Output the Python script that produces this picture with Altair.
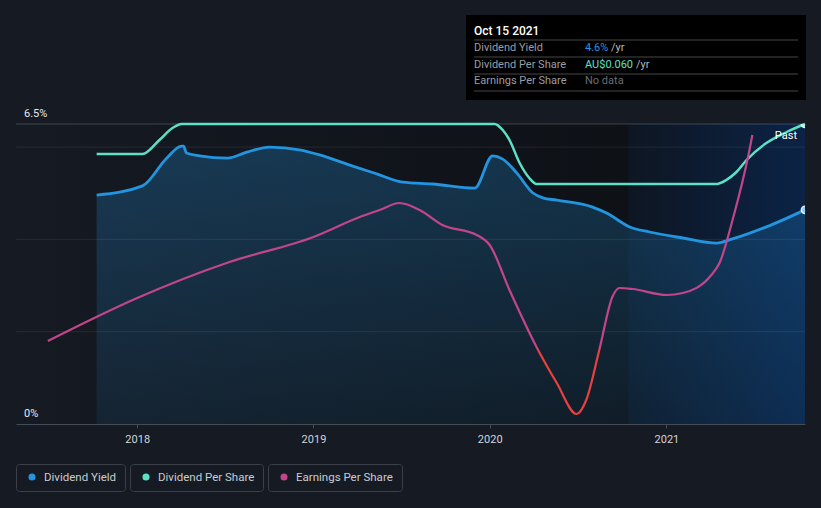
import altair as alt
import pandas as pd

# ---------------- data ----------------
yield_dates = ["2017-10-09", "2018-01-12", "2018-03-03", "2018-04-03", "2018-04-07", "2018-04-13",
               "2018-05-10", "2018-07-07", "2018-08-16", "2018-10-02", "2018-12-03", "2019-01-14",
               "2019-03-17", "2019-05-12", "2019-07-05", "2019-09-05", "2019-12-01", "2020-01-07",
               "2020-01-28", "2020-02-26", "2020-03-30", "2020-04-20", "2020-05-19", "2020-08-01",
               "2020-08-30", "2020-10-17", "2020-11-27", "2021-02-04", "2021-04-15", "2021-05-18",
               "2021-07-27", "2021-10-15"]
yield_values = [4.96, 5.16, 5.76, 6.02, 6.02, 5.87,
                5.81, 5.76, 5.89, 6.00, 5.94, 5.83,
                5.61, 5.42, 5.24, 5.20, 5.11, 5.81,
                5.74, 5.44, 5.01, 4.90, 4.85, 4.70,
                4.57, 4.27, 4.16, 4.03, 3.92, 4.01,
                4.27, 4.64]

dps_dates = ["2017-10-09", "2018-01-12", "2018-02-16", "2018-03-15", "2018-04-03", "2020-01-11",
             "2020-01-28", "2020-02-11", "2020-03-03", "2020-03-23", "2020-04-07", "2021-04-15",
             "2021-05-05", "2021-05-26", "2021-06-16", "2021-07-27", "2021-09-07", "2021-10-15"]
dps_values = [0.054, 0.054, 0.0568, 0.0592, 0.060, 0.060,
              0.0588, 0.0568, 0.0522, 0.0492, 0.048, 0.048,
              0.0488, 0.0504, 0.0528, 0.0562, 0.0584, 0.060]

eps_dates = ["2017-06-30", "2018-01-01", "2018-07-11", "2019-01-01", "2019-04-07", "2019-05-18",
             "2019-06-28", "2019-08-09", "2019-09-25", "2019-12-05", "2020-01-01", "2020-02-11",
             "2020-04-07", "2020-05-19", "2020-06-29", "2020-07-19", "2020-08-15", "2020-09-11",
             "2020-09-26", "2020-10-23", "2021-01-01", "2021-02-04", "2021-04-04", "2021-04-21",
             "2021-05-18", "2021-06-22", "2021-06-28"]
eps_values = [0.0032, 0.0204, 0.0348, 0.0448, 0.0528, 0.0556,
              0.0584, 0.0556, 0.0496, 0.0456, 0.0416, 0.0236,
              0.0008, -0.0136, -0.026, -0.0204, -0.0004, 0.0208,
              0.0244, 0.024, 0.0216, 0.0224, 0.0296, 0.0344,
              0.0516, 0.0796, 0.0856]

year_ticks = [2018, 2019, 2020, 2021]
y_label_values = [0, 6.5]
y_label_texts = ["0%", "6.5%"]
grid_values = [2, 4, 6]
top_value = [6.5]
series_names = ["Dividend Yield", "Dividend Per Share", "Earnings Per Share"]
tooltip_title = "Oct 15 2021"
tooltip_values = ["4.6%", "AU$0.060", "No data"]
past_label = "Past"

# ---------------- styling ----------------
BG = "#151a23"
BLUE = "#2394df"
TEAL = "#5ce0c6"
MAGENTA = "#c2458a"
RED = "#e8403c"
FONT = "Roboto"
W, H = 789, 300

x_scale = alt.Scale(domain=[alt.DateTime(year=2017, month=4, date=25),
                            alt.DateTime(year=2021, month=10, date=15)])
X_AXIS = alt.Axis(values=[alt.DateTime(year=y, month=1, date=1) for y in year_ticks],
                  format="%Y", title=None, grid=False, domainColor="#454b55",
                  tickColor="#454b55", tickSize=4, labelColor="#d2d5da",
                  labelFontSize=11, labelFont=FONT, labelPadding=5)
y_yield = alt.Scale(domain=[0, 6.5], nice=False, zero=False)
y_dps = alt.Scale(domain=[0, 0.06], nice=False, zero=False)
y_eps = alt.Scale(domain=[-0.03, 0.09], nice=False, zero=False)

yield_df = pd.DataFrame({"date": pd.to_datetime(yield_dates), "v": yield_values})
dps_df = pd.DataFrame({"date": pd.to_datetime(dps_dates), "v": dps_values})
eps_df = pd.DataFrame({"date": pd.to_datetime(eps_dates), "v": eps_values})

X = alt.X("date:T", scale=x_scale, axis=X_AXIS)

span_df = pd.DataFrame({"start": pd.to_datetime(["2017-04-25", "2020-10-15"]),
                        "end": pd.to_datetime(["2020-10-15", "2021-10-15"]),
                        "kind": ["history", "past"]})
bg_rect = alt.Chart(span_df).transform_filter(alt.datum.kind == "history").mark_rect(
    fill=alt.LinearGradient(gradient="linear", x1=0, x2=1, y1=0, y2=0,
                            stops=[alt.GradientStop(color=BG, offset=0),
                                   alt.GradientStop(color="#0e1116", offset=1)])
).encode(x=alt.X("start:T", scale=x_scale, axis=X_AXIS), x2="end:T",
         y=alt.value(0), y2=alt.value(H))

past_rect = alt.Chart(span_df).transform_filter(alt.datum.kind == "past").mark_rect(
    fill=alt.LinearGradient(gradient="linear", x1=0, x2=1, y1=0, y2=0,
                            stops=[alt.GradientStop(color="#0e1622", offset=0),
                                   alt.GradientStop(color="#0b2346", offset=1)])
).encode(x=alt.X("start:T", scale=x_scale, axis=X_AXIS), x2="end:T",
         y=alt.value(0), y2=alt.value(H))

area = alt.Chart(yield_df).mark_area(
    interpolate="monotone",
    fill=alt.LinearGradient(gradient="linear", x1=0, x2=0, y1=0, y2=1,
                            stops=[alt.GradientStop(color="rgba(35,148,223,0.27)", offset=0),
                                   alt.GradientStop(color="rgba(35,148,223,0.09)", offset=1)])
).encode(x=X, y=alt.Y("v:Q", scale=y_yield, axis=None))

grid_df = pd.DataFrame({"g": grid_values})
grid = alt.Chart(grid_df).mark_rule(color="#ffffff", opacity=0.08, strokeWidth=1).encode(
    y=alt.Y("g:Q", scale=y_yield, axis=None))
top_df = pd.DataFrame({"g": top_value})
top_line = alt.Chart(top_df).mark_rule(color="#ffffff", opacity=0.2, strokeWidth=1).encode(
    y=alt.Y("g:Q", scale=y_yield, axis=None))

ylab_df = pd.DataFrame({"v": y_label_values, "t": y_label_texts})
y_labels = alt.Chart(ylab_df).mark_text(
    align="left", baseline="alphabetic", dy=-7, color="#e6e8eb", fontSize=11, font=FONT
).encode(x=alt.value(8), y=alt.Y("v:Q", scale=y_yield, axis=None), text="t:N")

yield_line = alt.Chart(yield_df).mark_line(interpolate="monotone", color=BLUE, strokeWidth=2.8).encode(
    x=X, y=alt.Y("v:Q", scale=y_yield, axis=None))
dps_line = alt.Chart(dps_df).mark_line(interpolate="monotone", color=TEAL, strokeWidth=2.5).encode(
    x=X, y=alt.Y("v:Q", scale=y_dps, axis=None))
eps_line = alt.Chart(eps_df).mark_line(
    interpolate="monotone", strokeWidth=2.2,
    stroke=alt.LinearGradient(gradient="linear", x1=0, x2=0, y1=0, y2=1,
                              stops=[alt.GradientStop(color=MAGENTA, offset=0),
                                     alt.GradientStop(color=MAGENTA, offset=0.755),
                                     alt.GradientStop(color=RED, offset=0.78),
                                     alt.GradientStop(color=RED, offset=1)])
).encode(x=X, y=alt.Y("v:Q", scale=y_eps, axis=None))

yield_end = alt.Chart(yield_df.tail(1)).mark_point(
    shape="circle", filled=False, fill="#8fcaf2", fillOpacity=1, stroke="#e9f5ff",
    strokeWidth=1.3, size=55, opacity=1, clip=True
).encode(x=X, y=alt.Y("v:Q", scale=y_yield, axis=None))
dps_end = alt.Chart(dps_df.tail(1)).mark_point(
    shape="circle", filled=False, fill="#a9f1e2", fillOpacity=1, stroke="#eafffa",
    strokeWidth=1.3, size=55, opacity=1, clip=True
).encode(x=X, y=alt.Y("v:Q", scale=y_dps, axis=None))

past_text = alt.Chart(span_df).transform_filter(alt.datum.kind == "past").mark_text(
    text=past_label, align="right", baseline="middle", dx=-8, color="#ffffff",
    fontSize=11, font=FONT
).encode(x=alt.X("end:T", scale=x_scale, axis=X_AXIS), y=alt.value(12))

# ---------------- tooltip box ----------------
one = pd.DataFrame({"k": [0]})
tip_layers = [
    alt.Chart(one).mark_rect(color="#000000").encode(
        x=alt.value(450), x2=alt.value(790), y=alt.value(-109), y2=alt.value(-24)),
    alt.Chart(one).mark_text(text=tooltip_title, align="left", baseline="middle",
                             color="#ffffff", fontSize=12, fontWeight=500, font=FONT).encode(
        x=alt.value(458), y=alt.value(-93)),
]
for yy in [-84, -67, -50, -33]:
    tip_layers.append(alt.Chart(one).mark_rule(color="#474747", strokeWidth=1).encode(
        x=alt.value(458), x2=alt.value(782), y=alt.value(yy)))
row_y = [-76, -59, -43]
value_colors = [BLUE, TEAL, "#6a6d72"]
suffix_x = [595, 620, None]
for i in range(3):
    tip_layers.append(alt.Chart(one).mark_text(
        text=series_names[i], align="left", baseline="middle", color="#9a9da3",
        fontSize=11, font=FONT).encode(x=alt.value(458), y=alt.value(row_y[i])))
    tip_layers.append(alt.Chart(one).mark_text(
        text=tooltip_values[i], align="left", baseline="middle", color=value_colors[i],
        fontSize=11, font=FONT).encode(x=alt.value(569), y=alt.value(row_y[i])))
    if suffix_x[i] is not None:
        tip_layers.append(alt.Chart(one).mark_text(
            text="/yr", align="left", baseline="middle", color="#b4b7bc",
            fontSize=11, font=FONT).encode(x=alt.value(suffix_x[i]), y=alt.value(row_y[i])))

# ---------------- legend ----------------
legend_colors = [BLUE, TEAL, MAGENTA]
box_x = [(0, 109), (114, 247), (252, 386)]
leg_layers = []
for i in range(3):
    x0, x1 = box_x[i]
    leg_layers.append(alt.Chart(one).mark_rect(
        fillOpacity=0, stroke="#3a3f48", strokeWidth=1, cornerRadius=3).encode(
        x=alt.value(x0 + 0.5), x2=alt.value(x1 + 0.5), y=alt.value(340.5), y2=alt.value(367.5)))
    leg_layers.append(alt.Chart(one).mark_circle(size=50, color=legend_colors[i], opacity=1).encode(
        x=alt.value(x0 + 16), y=alt.value(353)))
    leg_layers.append(alt.Chart(one).mark_text(
        text=series_names[i], align="left", baseline="middle", color="#c9ccd2",
        fontSize=11.5, font=FONT).encode(x=alt.value(x0 + 28), y=alt.value(353.5)))

chart = alt.layer(
    bg_rect, past_rect, area, grid, top_line, y_labels, yield_line, dps_line, eps_line,
    yield_end, dps_end, past_text, *tip_layers, *leg_layers
).resolve_scale(y="independent").properties(
    width=W, height=H,
    padding={"left": 16, "top": 124, "right": 16, "bottom": 84},
    autosize=alt.AutoSizeParams(type="none"),
    background=BG,
).configure_view(strokeWidth=0)

chart.save("out.html", embed_options={"renderer": "svg", "actions": False})
